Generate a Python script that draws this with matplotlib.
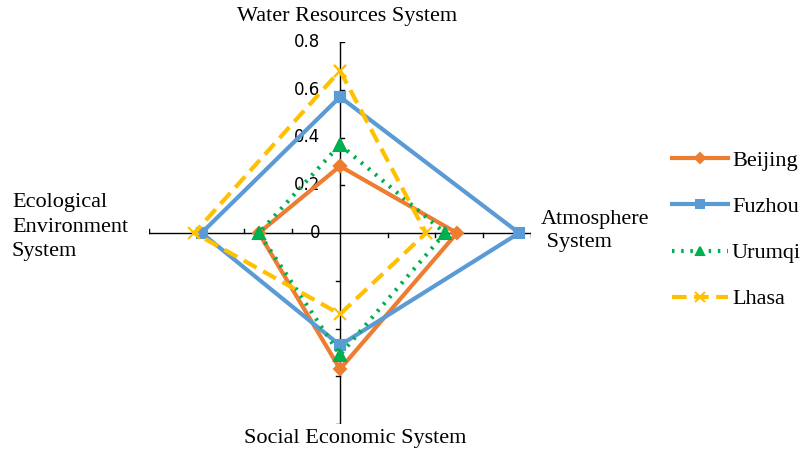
import numpy as np
import matplotlib
matplotlib.use('Agg')
from matplotlib import pyplot as plt

# axes order: top, right, bottom, left (clockwise like Excel radar)
categories = ['Water Resources System', 'Atmosphere\n System',
              'Social Economic System', 'Ecological\nEnvironment\nSystem']
cities = ['Beijing', 'Fuzhou', 'Urumqi', 'Lhasa']
beijing = [0.28, 0.49, 0.57, 0.34]
fuzhou = [0.57, 0.75, 0.47, 0.58]
urumqi = [0.37, 0.44, 0.51, 0.34]
lhasa = [0.68, 0.36, 0.34, 0.61]
ticks = [0, 0.2, 0.4, 0.6, 0.8]

styles = {
    'Beijing': dict(color='#ED7D31', ls='-', marker='D', ms=6),
    'Fuzhou': dict(color='#5B9BD5', ls='-', marker='s', ms=7),
    'Urumqi': dict(color='#00B050', ls=(0, (0.6, 1.6)), marker='^', ms=8),
    'Lhasa': dict(color='#FFC000', ls=(0, (3.5, 1.8)), marker='x', ms=9),
}

# unit directions for each category axis
dirs = np.array([[0, 1], [1, 0], [0, -1], [-1, 0]])

W, H = 804, 455
fig = plt.figure(figsize=(W / 100, H / 100), dpi=100)
cx, cy, r = 340, 233, 191
ax = fig.add_axes([(cx - r) / W, (H - cy - r) / H, 2 * r / W, 2 * r / H])
ax.set_xlim(-0.8, 0.8)
ax.set_ylim(-0.8, 0.8)
ax.axis('off')

# axis lines + ticks
tl = 4 / r * 0.8
for d, perp in zip(dirs, [[1, 0], [0, -1], [-1, 0], [0, 1]]):
    ax.plot([0, d[0] * 0.8], [0, d[1] * 0.8], color='black', lw=1, zorder=1)
    for t in ticks[1:]:
        p = d * t
        ax.plot([p[0], p[0] + perp[0] * tl], [p[1], p[1] + perp[1] * tl],
                color='black', lw=1, zorder=1)

for t in ticks:
    ax.text(-20 / r * 0.8, t, '%g' % t, ha='right', va='center',
            fontsize=12, family='DejaVu Sans', zorder=1)

for name, vals in zip(cities, [beijing, fuzhou, urumqi, lhasa]):
    v = np.array(vals)
    xs = list(dirs[:, 0] * v) + [dirs[0, 0] * v[0]]
    ys = list(dirs[:, 1] * v) + [dirs[0, 1] * v[0]]
    st = styles[name]
    ax.plot(xs, ys, color=st['color'], ls=st['ls'], lw=3,
            marker=st['marker'], ms=st['ms'], mew=1.5,
            mfc=st['color'], mec=st['color'], label=name, zorder=3,
            solid_joinstyle='miter', clip_on=False)

serif = 'Liberation Serif'
fs = 16
fig.text(347 / W, 1 - 16 / H, categories[0], ha='center', va='center',
         fontsize=fs, family=serif)
fig.text(541 / W, 1 - 231 / H, categories[1], ha='left', va='center',
         fontsize=fs, family=serif, linespacing=1.3)
fig.text(355 / W, 1 - 438 / H, categories[2], ha='center', va='center',
         fontsize=fs, family=serif)
fig.text(12 / W, 1 - 227 / H, categories[3], ha='left', va='center',
         fontsize=fs, family=serif, linespacing=1.4)

leg = ax.legend(loc='center left', bbox_to_anchor=(672 / W, 1 - 230 / H),
                bbox_transform=fig.transFigure, frameon=False,
                borderpad=0, borderaxespad=0,
                prop=dict(family=serif, size=fs), handlelength=2.5,
                handletextpad=0.2, labelspacing=1.15, markerscale=0.8)

fig.savefig('out.png', dpi=100)
